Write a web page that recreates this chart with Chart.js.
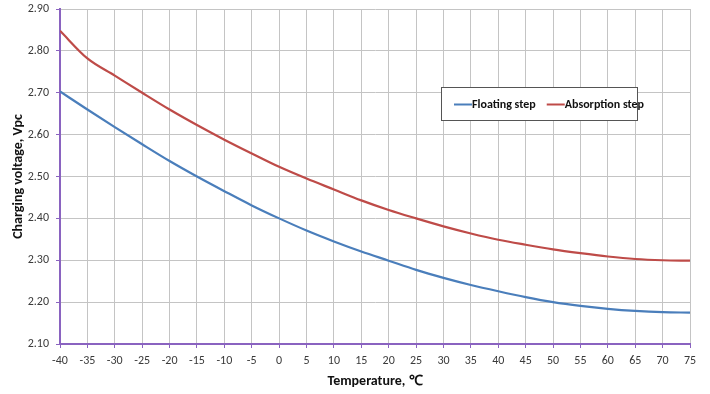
<!DOCTYPE html>
<html>
<head>
<meta charset="utf-8">
<script src="https://cdn.jsdelivr.net/npm/chart.js@4.4.1/dist/chart.umd.min.js"></script>
<style>
  html, body { margin: 0; padding: 0; background: #fff; }
  #wrap { width: 710px; height: 394px; }
</style>
</head>
<body>
<div id="wrap"><canvas id="charge_chart" width="710" height="394"></canvas></div>
<script>
// temperature points, deg C
var temps = [-40, -35, -30, -25, -20, -15, -10, -5, 0, 5, 10, 15, 20, 25, 30, 35, 40, 45, 50, 55, 60, 65, 70, 75];
// volts per cell
var floating = [2.703, 2.660, 2.618, 2.577, 2.537, 2.500, 2.465, 2.431, 2.400, 2.371, 2.345, 2.321, 2.299, 2.277, 2.258, 2.241, 2.226, 2.212, 2.200, 2.191, 2.184, 2.179, 2.176, 2.175];
var absorption = [2.848, 2.782, 2.741, 2.700, 2.660, 2.623, 2.588, 2.555, 2.523, 2.495, 2.469, 2.443, 2.420, 2.400, 2.381, 2.364, 2.349, 2.337, 2.326, 2.317, 2.309, 2.303, 2.300, 2.299];
var seriesNames = ['Floating step', 'Absorption step'];

var FONT = "Carlito, 'Liberation Sans', Arial, sans-serif";
var AXIS_PURPLE = '#8a63c0';
var GRID_GRAY = '#c4c4c4';

var toPoints = function(vals) {
  return temps.map(function(t, i) { return { x: t, y: vals[i] }; });
};

// legend drawn as a boxed panel inside the plot
var boxLegend = {
  id: 'boxLegend',
  afterDraw: function(chart) {
    var ctx = chart.ctx;
    var x = 441, y = 87, w = 196, h = 33;
    ctx.save();
    ctx.fillStyle = '#fff';
    ctx.fillRect(x, y, w, h);
    ctx.strokeStyle = '#555';
    ctx.lineWidth = 1;
    ctx.strokeRect(x + 0.5, y + 0.5, w, h);
    ctx.font = 'bold 12px ' + FONT;
    ctx.textBaseline = 'middle';
    var cx = x + 13;
    var cy = y + h / 2 + 1;
    chart.data.datasets.forEach(function(ds) {
      ctx.strokeStyle = ds.borderColor;
      ctx.lineWidth = 2;
      ctx.beginPath();
      ctx.moveTo(cx, cy);
      ctx.lineTo(cx + 18, cy);
      ctx.stroke();
      ctx.fillStyle = '#111';
      ctx.fillText(ds.label, cx + 18, cy);
      cx += 18 + ctx.measureText(ds.label).width + 11;
    });
    ctx.restore();
  }
};

var chart = new Chart(document.getElementById('charge_chart').getContext('2d'), {
  type: 'line',
  data: {
    datasets: [
      { label: seriesNames[0], data: toPoints(floating), borderColor: '#4a7ebb', borderWidth: 2.2, pointRadius: 0, cubicInterpolationMode: 'monotone', fill: false },
      { label: seriesNames[1], data: toPoints(absorption), borderColor: '#be4b48', borderWidth: 2.2, pointRadius: 0, cubicInterpolationMode: 'monotone', fill: false }
    ]
  },
  options: {
    responsive: false,
    animation: false,
    layout: { padding: { left: 0, top: 9, right: 20, bottom: 0 } },
    plugins: {
      legend: { display: false },
      tooltip: { enabled: false }
    },
    scales: {
      x: {
        type: 'linear',
        min: -40,
        max: 75,
        afterFit: function(scale) {
          scale.height = 50;
          scale.paddingLeft = 0;
          scale.paddingRight = 0;
        },
        ticks: { stepSize: 5, color: '#3a3a3a', font: { family: FONT, size: 12 }, padding: 6, maxRotation: 0 },
        grid: { color: GRID_GRAY, lineWidth: 1, tickColor: AXIS_PURPLE, tickLength: 4 },
        border: { color: AXIS_PURPLE, width: 2 },
        title: { display: true, text: 'Temperature, ℃', color: '#111', font: { family: FONT, size: 14, weight: 'bold' }, padding: { top: 0, bottom: 4 } }
      },
      y: {
        min: 2.1,
        max: 2.9,
        afterFit: function(scale) {
          scale.width = 60;
          scale.paddingTop = 0;
          scale.paddingBottom = 0;
        },
        ticks: {
          stepSize: 0.1,
          color: '#3a3a3a',
          font: { family: FONT, size: 12 },
          padding: 7,
          callback: function(v) { return v.toFixed(2); }
        },
        grid: { color: GRID_GRAY, lineWidth: 1, tickColor: AXIS_PURPLE, tickLength: 4 },
        border: { color: AXIS_PURPLE, width: 2 },
        title: { display: true, text: 'Charging voltage, Vpc', color: '#111', font: { family: FONT, size: 14, weight: 'bold' }, padding: { top: 10, bottom: 0 } }
      }
    }
  },
  plugins: [boxLegend]
});
</script>
</body>
</html>
